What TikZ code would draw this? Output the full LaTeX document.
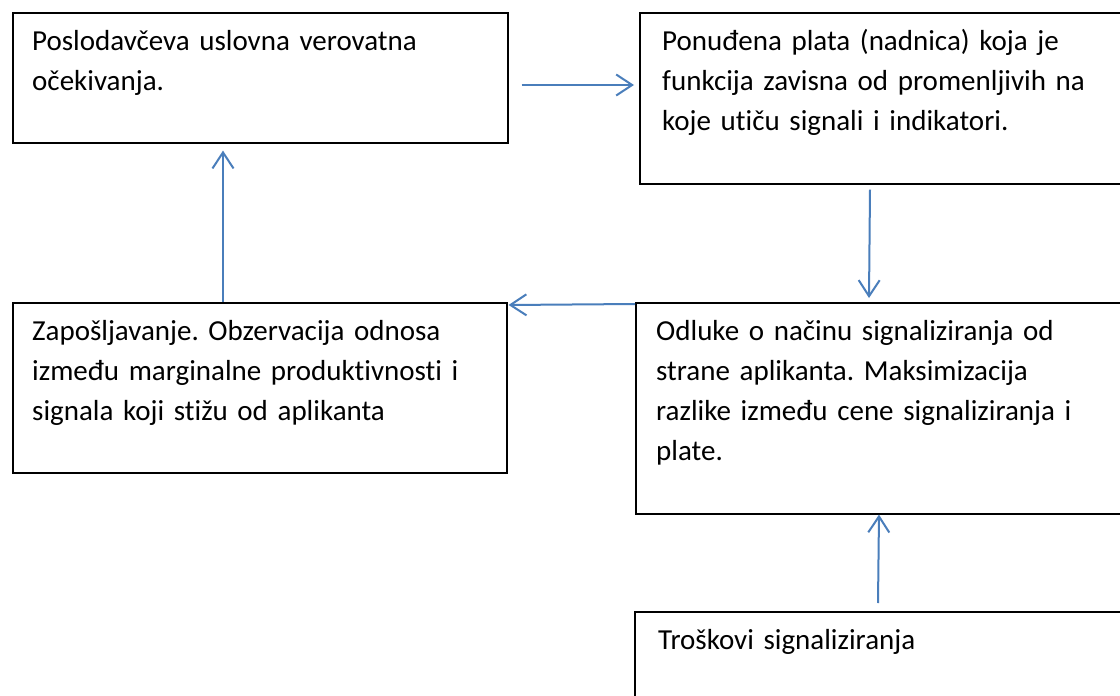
\documentclass[tikz,border=0pt]{standalone}
\usepackage{fontspec}
\setmainfont{Carlito}[Ligatures={NoCommon}]
\usetikzlibrary{arrows.meta}
\definecolor{arrblue}{HTML}{4A7EBB}
\tikzset{
  box/.style={draw=black, line width=1.6pt, rectangle, anchor=north west, inner sep=0pt},
  txt/.style={anchor=base west, align=left, text width=480pt, inner sep=0pt,
    font=\fontsize{29pt}{40pt}\selectfont\frenchspacing},
  arr/.style={draw=arrblue, line width=2pt, -{Straight Barb[length=16pt,width=21pt,line width=2pt]}}
}
\begin{document}
\begin{tikzpicture}[x=1pt,y=-1pt]
\useasboundingbox (0,0) rectangle (1120,696);
\clip (0,0) rectangle (1120,696);
\fill[white] (0,0) rectangle (1120,696);
% boxes
\node[box, minimum width=495pt, minimum height=130pt] (b1) at (12,12) {};
\node[box, minimum width=500pt, minimum height=171pt] (b2) at (639,12) {};
\node[box, minimum width=494pt, minimum height=170pt] (b3) at (12,302) {};
\node[box, minimum width=500pt, minimum height=211pt] (b4) at (635,302) {};
\node[box, minimum width=500pt, minimum height=100pt] (b5) at (634,611) {};
% texts
\node[txt] (t1) at (32,50) {Poslodavčeva uslovna verovatna\\očekivanja.};
\node[txt] (t2) at (662,50) {Ponuđena plata (nadnica) koja je\\funkcija zavisna od promenljivih na\\koje utiču signali i indikatori.};
\node[txt] (t3) at (32,340) {Zapošljavanje. Obzervacija odnosa\\između marginalne produktivnosti i\\signala koji stižu od aplikanta};
\node[txt] (t4) at (656,340) {Odluke o načinu signaliziranja od\\strane aplikanta. Maksimizacija\\razlike između cene signaliziranja i\\plate.};
\node[txt] (t5) at (658,649) {Troškovi signaliziranja};
% arrows
\draw[arr] ([xshift=13pt,yshift=-73pt]b1.north east) -- ([xshift=-5pt,yshift=-73pt]b2.north west);
\draw[arr] ([xshift=231pt,yshift=-5pt]b2.south west) -- ([xshift=234pt,yshift=4pt]b4.north west);
\draw[arr] ([yshift=-2pt]b4.north west) -- ([xshift=1pt,yshift=-3pt]b3.north east);
\draw[arr] ([xshift=211pt]b3.north west) -- ([xshift=211pt,yshift=-7pt]b1.south west);
\draw[arr] ([xshift=244pt,yshift=8pt]b5.north west) -- ([xshift=244pt]b4.south west);
\end{tikzpicture}
\end{document}
